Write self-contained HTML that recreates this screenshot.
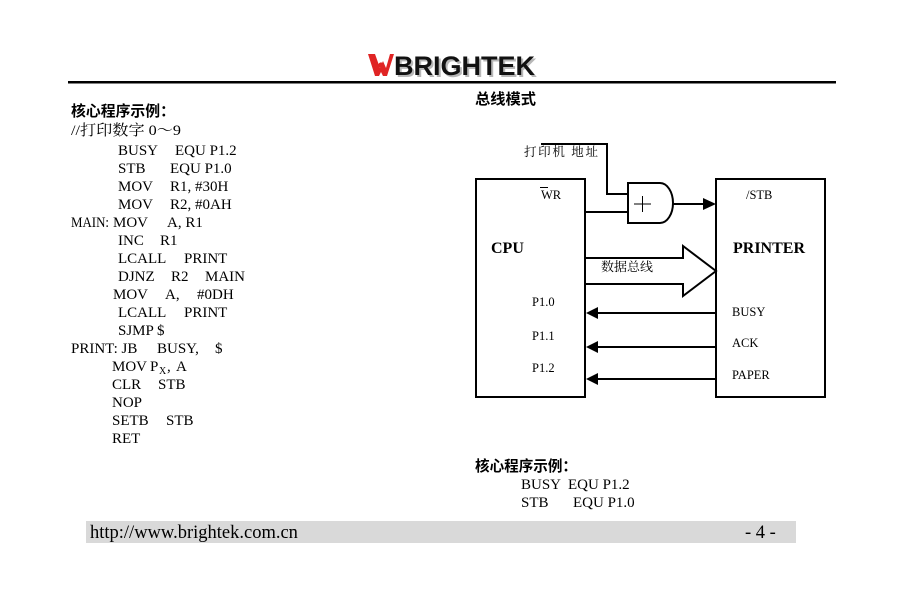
<!DOCTYPE html>
<html>
<head>
<meta charset="utf-8">
<style>
  html,body{margin:0;padding:0;background:#fff;}
  body{width:921px;height:590px;overflow:hidden;}
  svg{display:block;}
  .s{font-family:"Liberation Serif","Noto Serif CJK SC",serif;}
  .sb{font-family:"Liberation Sans","Noto Sans CJK SC",sans-serif;font-weight:bold;}
  .cj{font-family:"Liberation Serif","Noto Serif CJK SC",serif;}
  .hb{font-family:"Noto Sans CJK SC",sans-serif;font-weight:bold;}
</style>
</head>
<body>
<svg width="921" height="590" viewBox="0 0 921 590" xmlns="http://www.w3.org/2000/svg">
  <rect x="0" y="0" width="921" height="590" fill="#fff"/>

  <!-- Logo -->
  <g>
    <path d="M368,54 L375,54 L380,68 L383,61 L386,68 L390,54 L394,54 L387,76 L383,76 L381,72 L379,76 L375,76 Z" fill="#e02424"/>
    <circle cx="381" cy="65" r="2.6" fill="#e02424"/>
    <text x="396" y="77" class="sb" font-size="27" fill="#b8b8b8">BRIGHTEK</text>
    <text x="394" y="75" class="sb" font-size="27" fill="#111">BRIGHTEK</text>
  </g>
  <rect x="68" y="81" width="768" height="2.5" fill="#000"/>

  <!-- Left code column -->
  <g class="s" font-size="15" fill="#000">
    <text x="71" y="116" class="hb" font-size="15" textLength="104" lengthAdjust="spacingAndGlyphs">核心程序示例：</text>
    <text x="71" y="135" class="cj" textLength="110" lengthAdjust="spacingAndGlyphs">//打印数字 0～9</text>

    <text x="118" y="155">BUSY</text><text x="175" y="155">EQU P1.2</text>
    <text x="118" y="173">STB</text><text x="170" y="173">EQU P1.0</text>
    <text x="118" y="191">MOV</text><text x="170" y="191">R1, #30H</text>
    <text x="118" y="209">MOV</text><text x="170" y="209">R2, #0AH</text>
    <text x="71" y="227" textLength="38" lengthAdjust="spacingAndGlyphs">MAIN:</text><text x="113" y="227">MOV</text><text x="167" y="227">A, R1</text>
    <text x="118" y="245">INC</text><text x="160" y="245">R1</text>
    <text x="118" y="263">LCALL</text><text x="184" y="263">PRINT</text>
    <text x="118" y="281">DJNZ</text><text x="171" y="281">R2</text><text x="205" y="281">MAIN</text>
    <text x="113" y="299">MOV</text><text x="165" y="299">A,</text><text x="197" y="299">#0DH</text>
    <text x="118" y="317">LCALL</text><text x="184" y="317">PRINT</text>
    <text x="118" y="335">SJMP $</text>
    <text x="71" y="353">PRINT: JB</text><text x="157" y="353">BUSY,</text><text x="215" y="353">$</text>
    <text x="112" y="371">MOV</text><text x="150" y="371">P</text><text x="159" y="374" font-size="10">X</text><text x="167" y="371">,</text><text x="176" y="371">A</text>
    <text x="112" y="389">CLR</text><text x="158" y="389">STB</text>
    <text x="112" y="407">NOP</text>
    <text x="112" y="425">SETB</text><text x="166" y="425">STB</text>
    <text x="112" y="443">RET</text>
  </g>

  <!-- Right heading -->
  <text x="475" y="104" class="hb" font-size="15" textLength="61" lengthAdjust="spacingAndGlyphs">总线模式</text>

  <!-- Diagram -->
  <g fill="none" stroke="#000" stroke-width="2">
    <rect x="476" y="179" width="109" height="218"/>
    <rect x="716" y="179" width="109" height="218"/>
    <!-- address line -->
    <polyline points="541,144 607,144 607,194 628,194"/>
    <!-- WR line -->
    <line x1="585" y1="212" x2="628" y2="212"/>
    <!-- gate -->
    <path d="M628,183 H660 A13,20 0 0 1 660,223 H628 Z"/>
    <!-- gate output -->
    <line x1="673" y1="204" x2="704" y2="204"/>
    <!-- data bus arrow -->
    <polyline points="585,258 683,258 683,246 716,271 683,296 683,284 585,284"/>
    <!-- return lines -->
    <line x1="596" y1="313" x2="716" y2="313"/>
    <line x1="596" y1="347" x2="716" y2="347"/>
    <line x1="596" y1="379" x2="716" y2="379"/>
  </g>
  <!-- plus sign in gate -->
  <g stroke="#000" stroke-width="1">
    <line x1="634" y1="204" x2="651" y2="204"/>
    <line x1="642.5" y1="196" x2="642.5" y2="212"/>
  </g>
  <!-- arrowheads -->
  <g fill="#000">
    <polygon points="703,198 716,204 703,210"/>
    <polygon points="598,307 586,313 598,319"/>
    <polygon points="598,341 586,347 598,353"/>
    <polygon points="598,373 586,379 598,385"/>
  </g>

  <!-- diagram labels -->
  <g class="s" font-size="12.5" fill="#000">
    <text x="524" y="156" class="cj" textLength="74" lengthAdjust="spacing">打印机 地址</text>
    <text x="541" y="199">WR</text>
    <line x1="540" y1="187.5" x2="548" y2="187.5" stroke="#000" stroke-width="1"/>
    <text x="746" y="199">/STB</text>
    <text x="601" y="271" class="cj" textLength="52" lengthAdjust="spacingAndGlyphs">数据总线</text>
    <text x="532" y="306">P1.0</text>
    <text x="532" y="340">P1.1</text>
    <text x="532" y="372">P1.2</text>
    <text x="732" y="316">BUSY</text>
    <text x="732" y="347">ACK</text>
    <text x="732" y="379">PAPER</text>
  </g>
  <text x="491" y="253" class="s" font-size="16" font-weight="bold">CPU</text>
  <text x="733" y="253" class="s" font-size="16" font-weight="bold">PRINTER</text>

  <!-- bottom right code -->
  <text x="475" y="471" class="hb" font-size="15" textLength="102" lengthAdjust="spacingAndGlyphs">核心程序示例：</text>
  <g class="s" font-size="15" fill="#000">
    <text x="521" y="489">BUSY</text><text x="568" y="489">EQU P1.2</text>
    <text x="521" y="507">STB</text><text x="573" y="507">EQU P1.0</text>
  </g>

  <!-- footer -->
  <rect x="86" y="521" width="710" height="22" fill="#d9d9d9"/>
  <text x="90" y="538" class="s" font-size="18.5" fill="#000">http://www.brightek.com.cn</text>
  <text x="745" y="538" class="s" font-size="18.5" fill="#000">- 4 -</text>
</svg>
</body>
</html>
